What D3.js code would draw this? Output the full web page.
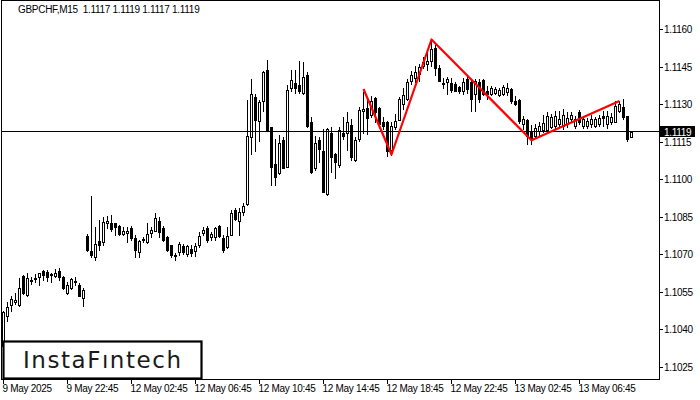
<!DOCTYPE html>
<html><head><meta charset="utf-8">
<script src="https://cdn.jsdelivr.net/npm/d3@7"></script>
<style>body{margin:0;background:#fff}svg{display:block}</style>
</head><body>
<svg id="chart" width="700" height="400"></svg>
<script>
const titleText = "GBPCHF,M15  1.1117 1.1119 1.1117 1.1119";
const openP = [1.10335,1.10456,1.10500,1.10508,1.10500,1.10613,1.10540,1.10597,1.10601,1.10609,
1.10633,1.10629,1.10621,1.10613,1.10633,1.10609,1.10548,1.10568,1.10593,1.10577,
1.10528,1.10774,1.10713,1.10689,1.10754,1.10750,1.10826,1.10826,1.10826,1.10814,
1.10782,1.10786,1.10806,1.10766,1.10709,1.10758,1.10750,1.10786,1.10794,1.10834,
1.10806,1.10770,1.10738,1.10697,1.10709,1.10734,1.10701,1.10722,1.10713,1.10738,
1.10786,1.10806,1.10770,1.10770,1.10814,1.10766,1.10730,1.10778,1.10879,1.10834,
1.10871,1.10903,1.11169,1.11330,1.11233,1.11314,1.11439,1.11209,1.11064,1.11028,
1.11157,1.11052,1.11366,1.11386,1.11378,1.11346,1.11419,1.11229,1.11048,1.11157,
1.11116,1.10943,1.11185,1.11104,1.11060,1.11185,1.11185,1.11217,1.11080,1.11161,
1.11274,1.11286,1.11257,1.11326,1.11286,1.11229,1.11229,1.11120,1.11209,1.11237,
1.11302,1.11322,1.11395,1.11407,1.11423,1.11455,1.11463,1.11475,1.11527,1.11447,
1.11386,1.11390,1.11386,1.11382,1.11370,1.11354,1.11403,1.11390,1.11342,1.11390,
1.11399,1.11354,1.11342,1.11346,1.11338,1.11342,1.11350,1.11362,1.11314,1.11318,
1.11221,1.11237,1.11193,1.11173,1.11193,1.11197,1.11197,1.11209,1.11213,1.11221,
1.11213,1.11221,1.11241,1.11213,1.11270,1.11213,1.11213,1.11221,1.11213,1.11221,
1.11253,1.11221,1.11229,1.11229,1.11274,1.11290,1.11253,1.1117];
const highP = [1.10476,1.10508,1.10536,1.10548,1.10605,1.10617,1.10625,1.10609,1.10621,1.10625,
1.10637,1.10637,1.10625,1.10641,1.10645,1.10613,1.10589,1.10605,1.10609,1.10585,
1.10568,1.10782,1.10935,1.10810,1.10839,1.10850,1.10855,1.10859,1.10826,1.10818,
1.10810,1.10810,1.10814,1.10778,1.10758,1.10770,1.10826,1.10810,1.10867,1.10850,
1.10814,1.10774,1.10738,1.10705,1.10750,1.10742,1.10738,1.10738,1.10746,1.10790,
1.10810,1.10814,1.10790,1.10810,1.10818,1.10778,1.10810,1.10879,1.10887,1.10887,
1.10907,1.11318,1.11403,1.11342,1.11318,1.11435,1.11479,1.11209,1.11161,1.11177,
1.11169,1.11378,1.11439,1.11439,1.11475,1.11471,1.11431,1.11249,1.11173,1.11169,
1.11201,1.11205,1.11209,1.11108,1.11209,1.11249,1.11270,1.11241,1.11169,1.11290,
1.11350,1.11330,1.11334,1.11330,1.11290,1.11249,1.11233,1.11229,1.11261,1.11330,
1.11366,1.11403,1.11435,1.11455,1.11463,1.11491,1.11523,1.11556,1.11539,1.11459,
1.11407,1.11411,1.11407,1.11390,1.11374,1.11407,1.11411,1.11395,1.11403,1.11403,
1.11403,1.11374,1.11374,1.11370,1.11366,1.11378,1.11386,1.11366,1.11334,1.11322,
1.11253,1.11241,1.11217,1.11221,1.11229,1.11257,1.11270,1.11261,1.11274,1.11274,
1.11282,1.11270,1.11270,1.11253,1.11278,1.11253,1.11245,1.11257,1.11249,1.11257,
1.11274,1.11274,1.11265,1.11314,1.11314,1.11322,1.11253,1.1119];
const lowP = [1.10314,1.10435,1.10476,1.10504,1.10496,1.10544,1.10536,1.10581,1.10589,1.10577,
1.10597,1.10593,1.10589,1.10609,1.10597,1.10564,1.10544,1.10564,1.10576,1.10532,
1.10496,1.10713,1.10689,1.10677,1.10717,1.10738,1.10806,1.10794,1.10778,1.10778,
1.10778,1.10750,1.10758,1.10689,1.10689,1.10750,1.10746,1.10770,1.10794,1.10770,
1.10754,1.10713,1.10689,1.10677,1.10697,1.10701,1.10693,1.10693,1.10693,1.10730,
1.10778,1.10750,1.10758,1.10758,1.10770,1.10709,1.10726,1.10778,1.10838,1.10778,
1.10859,1.10899,1.11104,1.11112,1.11153,1.11274,1.11197,1.10979,1.10979,1.11024,
1.11048,1.11052,1.11354,1.11346,1.11346,1.11342,1.11209,1.11028,1.11040,1.11072,
1.10951,1.10939,1.11032,1.11008,1.11052,1.11161,1.11120,1.11080,1.11076,1.11153,
1.11185,1.11181,1.11249,1.11229,1.11213,1.11201,1.11096,1.11100,1.11201,1.11237,
1.11282,1.11318,1.11382,1.11390,1.11395,1.11447,1.11439,1.11455,1.11419,1.11394,
1.11366,1.11342,1.11350,1.11354,1.11346,1.11342,1.11346,1.11274,1.11274,1.11310,
1.11338,1.11322,1.11338,1.11342,1.11334,1.11338,1.11338,1.11306,1.11298,1.11225,
1.11201,1.11141,1.11141,1.11165,1.11177,1.11189,1.11189,1.11205,1.11205,1.11209,
1.11201,1.11209,1.11229,1.11205,1.11221,1.11205,1.11205,1.11209,1.11209,1.11213,
1.11213,1.11205,1.11221,1.11229,1.11270,1.11241,1.11153,1.1117];
const closeP = [1.10472,1.10492,1.10524,1.10520,1.10568,1.10548,1.10605,1.10595,1.10605,1.10625,
1.10617,1.10609,1.10617,1.10625,1.10609,1.10568,1.10576,1.10601,1.10589,1.10536,
1.10560,1.10717,1.10697,1.10742,1.10738,1.10830,1.10834,1.10802,1.10810,1.10782,
1.10794,1.10794,1.10766,1.10717,1.10754,1.10762,1.10782,1.10798,1.10846,1.10790,
1.10758,1.10717,1.10697,1.10693,1.10742,1.10709,1.10734,1.10705,1.10734,1.10774,
1.10798,1.10758,1.10782,1.10806,1.10774,1.10717,1.10774,1.10867,1.10842,1.10871,
1.10895,1.11173,1.11342,1.11237,1.11310,1.11431,1.11197,1.11052,1.11012,1.11145,
1.11048,1.11358,1.11399,1.11366,1.11354,1.11411,1.11213,1.11032,1.11145,1.11124,
1.10951,1.11201,1.11092,1.11072,1.11197,1.11173,1.11229,1.11092,1.11157,1.11277,
1.11282,1.11245,1.11314,1.11270,1.11221,1.11213,1.11112,1.11213,1.11233,1.11322,
1.11338,1.11390,1.11419,1.11431,1.11451,1.11471,1.11475,1.11523,1.11447,1.11394,
1.11382,1.11403,1.11358,1.11354,1.11354,1.11390,1.11362,1.11322,1.11395,1.11322,
1.11342,1.11342,1.11366,1.11362,1.11358,1.11370,1.11366,1.11314,1.11302,1.11233,
1.11241,1.11173,1.11165,1.11205,1.11213,1.11225,1.11253,1.11249,1.11253,1.11241,
1.11257,1.11245,1.11257,1.11241,1.11229,1.11241,1.11233,1.11241,1.11241,1.11245,
1.11245,1.11253,1.11249,1.11294,1.11302,1.11249,1.11161,1.1119];
const priceTicks = [1.1025,1.1040,1.1055,1.1070,1.1085,1.1100,1.1115,1.1130,1.1145,1.1160];
const timeTickIndex = [0,16,32,48,64,80,96,112,128,144];
const timeTickLabels = ["9 May 2025","9 May 22:45","12 May 02:45","12 May 06:45","12 May 10:45","12 May 14:45","12 May 18:45","12 May 22:45","13 May 02:45","13 May 06:45"];
const patternIndex = [90,97,107,132,154];
const patternPrice = [1.11362,1.11100,1.11560,1.11157,1.11314];
const lastPrice = 1.1119;
const logoText = "InstaFıntech";

const svg = d3.select("#chart");
const axisFont = "'Liberation Sans', Arial, sans-serif";
const x = d3.scaleLinear().domain([0, openP.length - 1]).range([3, 3 + 4 * (openP.length - 1)]);
const y = d3.scaleLinear().domain([1.1025, 1.1160]).range([367, 29.5]);
const px = v => Math.round(v);

svg.append("rect").attr("width",700).attr("height",400).attr("fill","#fff");

const candles = d3.range(openP.length).map(i => ({i, o: openP[i], h: highP[i], l: lowP[i], c: closeP[i]}));
const g = svg.append("g").attr("shape-rendering","crispEdges");

// price line
const ly = Math.floor(y(lastPrice)) + 0.5;
svg.append("line").attr("x1",1).attr("x2",659).attr("y1",ly).attr("y2",ly)
  .attr("stroke","#000").attr("stroke-width",1).attr("shape-rendering","crispEdges");

// wicks
g.selectAll("line.w").data(candles).join("line").attr("class","w")
  .attr("x1", d => x(d.i) + 0.5).attr("x2", d => x(d.i) + 0.5)
  .attr("y1", d => px(y(d.h))).attr("y2", d => px(y(d.l)) + 1)
  .attr("stroke","#000").attr("stroke-width",1);

// bodies
g.selectAll("rect.b").data(candles).join("rect").attr("class","b")
  .attr("x", d => x(d.i) - 0.5)
  .attr("width", 2)
  .attr("y", d => px(y(Math.max(d.o, d.c))) + 0.5)
  .attr("height", d => Math.max(0, px(y(Math.min(d.o, d.c))) - px(y(Math.max(d.o, d.c)))))
  .attr("fill", d => d.c >= d.o ? "#fff" : "#000")
  .attr("stroke","#000").attr("stroke-width",1);

// pattern line
svg.append("path")
  .datum(patternIndex.map((v, k) => [v, patternPrice[k]]))
  .attr("d", d3.line().x(d => x(d[0]) + 0.5).y(d => y(d[1])))
  .attr("fill","none").attr("stroke","#ff0000").attr("stroke-width",2.2)
  .attr("stroke-linejoin","round");

// frame
svg.append("rect").attr("x",1.5).attr("y",0.5).attr("width",658).attr("height",379)
  .attr("fill","none").attr("stroke","#000").attr("stroke-width",1).attr("shape-rendering","crispEdges");

// y axis
const yAxis = svg.append("g");
yAxis.selectAll("line").data(priceTicks).join("line")
  .attr("x1",659).attr("x2",663)
  .attr("y1", d => Math.floor(y(d)) + 0.5).attr("y2", d => Math.floor(y(d)) + 0.5)
  .attr("stroke","#000").attr("shape-rendering","crispEdges");
yAxis.selectAll("text").data(priceTicks).join("text")
  .attr("x",664).attr("y", d => y(d) + 3.8)
  .attr("font-family",axisFont).attr("font-size",10).attr("letter-spacing",-0.3)
  .attr("fill","#000").text(d => d.toFixed(4));

// last price tag
svg.append("rect").attr("x",660).attr("y",ly - 5.5).attr("width",35).attr("height",11).attr("fill","#000");
svg.append("text").attr("x",664).attr("y",ly + 4).attr("font-family",axisFont).attr("font-size",10)
  .attr("letter-spacing",-0.3).attr("fill","#fff").text(lastPrice.toFixed(4));

// x axis
const xAxis = svg.append("g");
xAxis.selectAll("line").data(timeTickIndex).join("line")
  .attr("x1", d => x(d) + 0.5).attr("x2", d => x(d) + 0.5).attr("y1",380).attr("y2",384)
  .attr("stroke","#000").attr("shape-rendering","crispEdges");
xAxis.selectAll("text").data(timeTickIndex).join("text")
  .attr("x", d => x(d) - 0.5).attr("y",392)
  .attr("font-family",axisFont).attr("font-size",10).attr("letter-spacing",-0.3)
  .attr("fill","#000").text((d, k) => timeTickLabels[k]);

// title
svg.append("text").attr("x",18).attr("y",13).attr("font-family",axisFont).attr("font-size",10)
  .attr("letter-spacing",-0.3).attr("fill","#000").attr("xml:space","preserve")
  .style("white-space","pre").text(titleText);

// logo box
svg.append("rect").attr("x",3.5).attr("y",341.5).attr("width",198).attr("height",37)
  .attr("fill","#fff").attr("stroke","#000").attr("stroke-width",2.2);
svg.append("text").attr("x",23).attr("y",367.5)
  .attr("font-family","'DejaVu Sans', sans-serif").attr("font-size",23)
  .attr("textLength",158).attr("lengthAdjust","spacing")
  .attr("fill","#1a1a1a").text(logoText);
</script>
</body></html>
